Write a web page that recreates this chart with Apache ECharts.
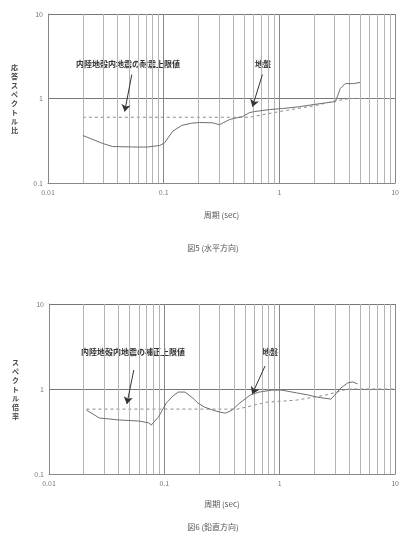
<!DOCTYPE html>
<html><head><meta charset="utf-8">
<script src="https://cdn.jsdelivr.net/npm/echarts@6/dist/echarts.min.js"></script>
<style>html,body{margin:0;padding:0;background:#fff}#c{width:402px;height:540px}</style>
</head><body><div id="c"></div>
<script>
// ---- tick values / labels ----
const xTickLabels = ['0.01', '0.1', '1', '10'];
const yTickLabels = ['0.1', '1', '10'];
const minorGridX = [0.02,0.03,0.04,0.05,0.06,0.07,0.08,0.09,
                    0.2,0.3,0.4,0.5,0.6,0.7,0.8,0.9,
                    2,3,4,5,6,7,8,9];

// ---- texts ----
const yNameTop = '応答スペクトル比';
const yNameBottom = 'スペクトル倍率';
const xName = '周期 (sec)';
const titleTop = '図5 (水平方向)';
const titleBottom = '図6 (鉛直方向)';
const noteLimitTop = '内陸地殻内地震の耐震上限値';
const noteLimitBottom = '内陸地殻内地震の補正上限値';
const noteObs = '地盤';

// ---- top chart (horizontal) ----
const hObsPeriod = [0.02,0.0298,0.0363,0.054,0.0713,0.0925,0.102,0.1197,0.143,0.174,0.204,0.265,0.304,0.371,0.424,0.48,0.55,0.608,0.82,1.06,1.49,2.0,2.7,3.05,3.36,3.7,4.35,5.0];
const hObsRatio  = [0.365,0.293,0.27,0.267,0.266,0.278,0.30,0.41,0.48,0.51,0.52,0.515,0.49,0.564,0.59,0.61,0.68,0.70,0.74,0.76,0.80,0.85,0.90,0.92,1.31,1.5,1.5,1.55];
const hLimPeriod = [0.02,0.55,1.0,2.0,3.0,4.0,10];
const hLimRatio  = [0.6,0.6,0.7,0.82,0.93,1.0,1.0];

// ---- bottom chart (vertical) ----
const vObsPeriod = [0.0211,0.0273,0.0404,0.060,0.073,0.077,0.089,0.104,0.119,0.132,0.151,0.177,0.195,0.224,0.262,0.30,0.339,0.389,0.43,0.555,0.662,0.855,1.04,1.40,1.77,2.07,2.78,2.95,3.39,3.89,4.29,4.73];
const vObsRatio  = [0.566,0.456,0.432,0.42,0.40,0.377,0.47,0.685,0.83,0.92,0.92,0.78,0.685,0.61,0.566,0.536,0.52,0.566,0.65,0.85,0.92,0.97,0.97,0.90,0.85,0.805,0.76,0.83,1.03,1.18,1.21,1.15];
const vLimPeriod = [0.0211,0.43,0.774,1.40,2.52,3.89,10];
const vLimRatio  = [0.58,0.58,0.70,0.74,0.85,1.0,1.0];

// ---- annotation arrows (data space: [period, ratio]) ----
const arrowsTop = [[[0.053,1.92],[0.046,0.70]], [[0.713,1.92],[0.585,0.80]]];
const arrowsBottom = [[[0.0543,1.67],[0.0473,0.666]], [[0.745,1.86],[0.577,0.87]]];

const zip = (a, b) => a.map((v, i) => [v, b[i]]);
const FONT = '"Noto Sans CJK JP", "Noto Sans", sans-serif';

function xAxisCfg(gi, gap) {
  return {
    type: 'log', logBase: 10, min: 0.01, max: 10, gridIndex: gi,
    name: xName, nameLocation: 'middle', nameGap: gap,
    nameTextStyle: { fontFamily: FONT, fontSize: 8, color: '#555' },
    axisLine: { show: true, lineStyle: { color: '#888', width: 1 } },
    axisTick: { show: false },
    axisLabel: { fontFamily: FONT, fontSize: 7, color: '#777', margin: 6,
      formatter: v => xTickLabels.find(t => Math.abs(parseFloat(t) - v) < 1e-9 * Math.max(1, v)) || '' },
    splitLine: { show: true, lineStyle: { color: '#888', width: 1 } },
    minorTick: { show: false }, minorSplitLine: { show: false }
  };
}
function yAxisCfg(gi, name) {
  return {
    type: 'log', logBase: 10, min: 0.1, max: 10, gridIndex: gi,
    name: name.split('').join('\n'), nameLocation: 'middle', nameGap: 30, nameRotate: 0,
    nameTextStyle: { fontFamily: FONT, fontSize: 7, fontWeight: 'bold', color: '#444', lineHeight: 9 },
    axisLine: { show: true, lineStyle: { color: '#888', width: 1 } },
    axisTick: { show: false },
    axisLabel: { fontFamily: FONT, fontSize: 7, color: '#777', margin: 5,
      formatter: v => yTickLabels.find(t => Math.abs(parseFloat(t) - v) < 1e-9 * Math.max(1, v)) || '' },
    splitLine: { show: true, lineStyle: { color: '#777', width: 1.2 } }
  };
}
function gridLines(gi) {
  return {
    type: 'line', xAxisIndex: gi, yAxisIndex: gi, data: [], silent: true,
    markLine: { silent: true, symbol: ['none', 'none'], label: { show: false },
      lineStyle: { color: '#b4b4b4', width: 1, type: 'solid' },
      data: minorGridX.map(v => ({ xAxis: v })) }
  };
}
function obsSeries(gi, px, py, arrows) {
  return {
    type: 'line', xAxisIndex: gi, yAxisIndex: gi, data: zip(px, py),
    showSymbol: false, lineStyle: { color: '#6f6f6f', width: 1 }, z: 5,
    markLine: { silent: true, symbol: ['none', 'arrow'], symbolSize: 7, label: { show: false },
      lineStyle: { color: '#333', width: 1, type: 'solid', curveness: 0.15 },
      data: arrows.map(a => [{ coord: a[0] }, { coord: a[1] }]) }
  };
}
function limSeries(gi, px, py) {
  return {
    type: 'line', xAxisIndex: gi, yAxisIndex: gi, data: zip(px, py),
    showSymbol: false, lineStyle: { color: '#8c8c8c', width: 1, type: [3, 3] }, z: 4
  };
}
const txt = (x, y, text, size, color, weight) => ({
  type: 'text', x: x, y: y,
  style: { text: text, fontFamily: FONT, fontSize: size, fill: color, fontWeight: weight || 'normal',
    textAlign: 'center', textVerticalAlign: 'middle' }
});

const chart = echarts.init(document.getElementById('c'), null, { renderer: 'canvas' });
chart.setOption({
  backgroundColor: '#fff',
  animation: false,
  grid: [
    { left: 48, top: 14, width: 348, height: 169 },
    { left: 49, top: 304, width: 351, height: 170 }
  ],
  xAxis: [xAxisCfg(0, 28), xAxisCfg(1, 26)],
  yAxis: [yAxisCfg(0, yNameTop), yAxisCfg(1, yNameBottom)],
  series: [
    gridLines(0), gridLines(1),
    limSeries(0, hLimPeriod, hLimRatio), obsSeries(0, hObsPeriod, hObsRatio, arrowsTop),
    limSeries(1, vLimPeriod, vLimRatio), obsSeries(1, vObsPeriod, vObsRatio, arrowsBottom)
  ],
  graphic: [
    txt(128, 64, noteLimitTop, 8, '#333', 'bold'),
    txt(263, 64, noteObs, 8, '#333', 'bold'),
    txt(133, 352, noteLimitBottom, 8, '#333', 'bold'),
    txt(270, 352, noteObs, 8, '#333', 'bold'),
    txt(213, 248, titleTop, 8, '#555'),
    txt(213, 527, titleBottom, 8, '#555')
  ]
});
</script>
</body></html>
